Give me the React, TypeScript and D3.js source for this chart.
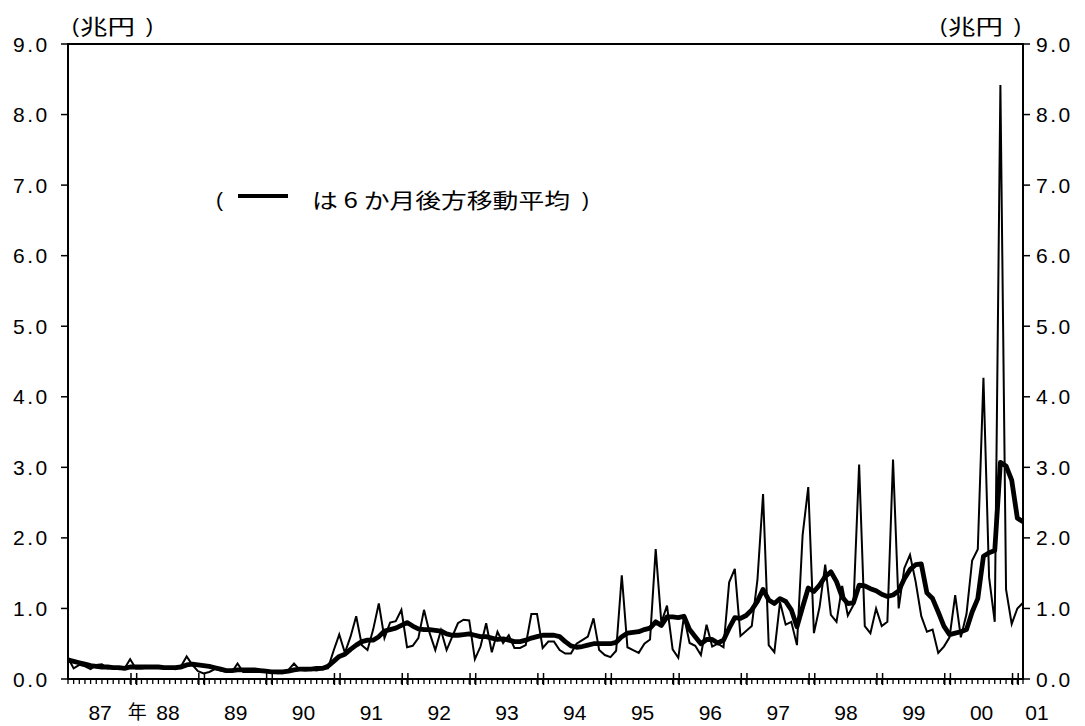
import React from "react";
import * as d3 from "d3";

// Monthly values, Jan 1987 – Feb 2001 (兆円)
const RAW: number[] = [
  0.3, 0.15, 0.2, 0.18, 0.14, 0.2, 0.21, 0.15, 0.17, 0.14, 0.15, 0.28,
  0.15, 0.15, 0.16, 0.17, 0.16, 0.17, 0.15, 0.14, 0.18, 0.32, 0.2, 0.11,
  0.08, 0.1, 0.14, 0.12, 0.1, 0.1, 0.22, 0.1, 0.1, 0.1, 0.1, 0.1,
  0.1, 0.08, 0.08, 0.13, 0.22, 0.13, 0.12, 0.13, 0.12, 0.14, 0.15, 0.4,
  0.63, 0.37, 0.6, 0.89, 0.48, 0.41, 0.7, 1.07, 0.58, 0.8, 0.82, 0.98,
  0.45, 0.47, 0.58, 0.98, 0.65, 0.41, 0.69, 0.41, 0.6, 0.79, 0.84, 0.83,
  0.28, 0.46, 0.79, 0.38, 0.67, 0.51, 0.62, 0.44, 0.44, 0.48, 0.92, 0.92,
  0.44, 0.53, 0.53, 0.41, 0.36, 0.36, 0.5, 0.55, 0.6, 0.86, 0.41, 0.34,
  0.31, 0.4, 1.47, 0.45, 0.41, 0.37, 0.5, 0.56, 1.84, 0.8, 1.04, 0.42,
  0.3, 0.89, 0.51, 0.47, 0.34, 0.77, 0.46, 0.5, 0.45, 1.37, 1.56, 0.61,
  0.68, 0.75, 1.4, 2.62, 0.48, 0.38, 1.09, 0.77, 0.81, 0.48, 2.04, 2.72,
  0.65, 1.02, 1.62, 0.91, 0.81, 1.32, 0.9, 1.05, 3.04, 0.75, 0.65, 1.0,
  0.75, 0.81, 3.11, 1.0, 1.57, 1.76, 1.38, 0.89, 0.67, 0.7, 0.37, 0.46,
  0.59, 1.19, 0.59, 0.92, 1.68, 1.84, 4.27, 1.44, 0.81, 8.42, 1.27, 0.78,
  1.0, 1.08,
];

// 6-month backward moving average as drawn (thick line)
const MA6: number[] = [
  0.27, 0.25, 0.23, 0.21, 0.19, 0.18, 0.17, 0.17, 0.16, 0.16, 0.15, 0.17,
  0.17, 0.17, 0.17, 0.17, 0.17, 0.16, 0.16, 0.16, 0.17, 0.2, 0.21, 0.2,
  0.19, 0.18, 0.16, 0.14, 0.12, 0.12, 0.13, 0.13, 0.13, 0.13, 0.12, 0.11,
  0.1, 0.1, 0.1, 0.11, 0.13, 0.14, 0.14, 0.14, 0.15, 0.15, 0.18, 0.25,
  0.32, 0.35, 0.42, 0.48, 0.53, 0.55, 0.55, 0.6, 0.68, 0.7, 0.72, 0.76,
  0.8, 0.75, 0.71, 0.7, 0.7, 0.69, 0.68, 0.64, 0.62, 0.62, 0.63, 0.64,
  0.62, 0.6, 0.6, 0.58, 0.56, 0.57, 0.55, 0.53, 0.53, 0.55, 0.58, 0.6,
  0.62, 0.62, 0.62, 0.6, 0.53, 0.47, 0.45, 0.46, 0.48, 0.5, 0.5, 0.5,
  0.5, 0.52, 0.6, 0.65, 0.66, 0.67, 0.7, 0.72, 0.81, 0.76, 0.88, 0.88,
  0.87, 0.89, 0.7, 0.6, 0.5, 0.56, 0.56, 0.51, 0.55, 0.72, 0.87, 0.86,
  0.9, 0.98, 1.1, 1.27, 1.12, 1.07, 1.14, 1.1, 0.98, 0.74, 1.02, 1.29,
  1.24, 1.33, 1.45, 1.52, 1.38, 1.16, 1.07, 1.08, 1.33, 1.32, 1.28, 1.25,
  1.2, 1.17, 1.19, 1.25, 1.42, 1.55, 1.62, 1.63, 1.22, 1.14, 0.95, 0.75,
  0.63, 0.65, 0.67, 0.7, 0.95, 1.14, 1.74, 1.79, 1.82, 3.07, 3.02, 2.82,
  2.28, 2.23,
];

const YEAR_LABELS: string[] = ["87", "88", "89", "90", "91", "92", "93", "94", "95", "96", "97", "98", "99", "00", "01"];
const Y_TICKS: number[] = [0, 1, 2, 3, 4, 5, 6, 7, 8, 9];
const UNIT = "兆円";
const YEAR_MARK = "年";
const LEGEND_TEXT = "は 6 か月後方移動平均";

const W = 1085;
const H = 726;
const FONT = "'Liberation Sans', Arial, Helvetica, sans-serif";
const CJK = "'Noto Sans CJK JP', sans-serif";

function Unit({ x0 }: { x0: number }) {
  return (
    <g>
      <text x={x0 + 6} y={33} fontSize={21} fontFamily={FONT} fill="#000">(</text>
      <text x={x0 + 14} y={34} fontSize={21} fontFamily={CJK} textLength={55} lengthAdjust="spacingAndGlyphs" fill="#000">
        {UNIT}
      </text>
      <text x={x0 + 80} y={33} fontSize={21} fontFamily={FONT} fill="#000">)</text>
    </g>
  );
}

export default function App() {
  const n = RAW.length;
  const x = d3.scaleLinear().domain([0, n - 1]).range([68, 1023]);
  const y = d3.scaleLinear().domain([0, 9]).range([679, 44]);
  const line = d3
    .line<number>()
    .x((_, i) => x(i))
    .y((d) => y(d));

  const left = x(0);
  const right = x(n - 1);
  const top = y(9);
  const bottom = y(0);

  const monthIdx = d3.range(0, n);
  const yearBounds = d3.range(1, YEAR_LABELS.length).map((k) => k * 12).filter((m) => m <= n);

  return (
    <svg
      width={W}
      height={H}
      style={{ position: "absolute", left: 0, top: 0, background: "#fff" }}
      fontFamily={FONT}
    >
      <rect x={0} y={0} width={W} height={H} fill="#fff" />
      {/* frame */}
      <rect x={left} y={top} width={right - left} height={bottom - top} fill="none" stroke="#000" strokeWidth={2} />

      {/* y ticks & labels */}
      {Y_TICKS.map((t) => (
        <g key={t}>
          <line x1={left - 7} x2={left} y1={y(t)} y2={y(t)} stroke="#000" strokeWidth={1.5} />
          <line x1={right} x2={right + 7} y1={y(t)} y2={y(t)} stroke="#000" strokeWidth={1.5} />
          <text x={13} y={y(t) + 7.5} fontSize={21} letterSpacing={2.5} fill="#000">
            {t.toFixed(1)}
          </text>
          <text x={1036} y={y(t) + 7.5} fontSize={21} letterSpacing={2.5} fill="#000">
            {t.toFixed(1)}
          </text>
        </g>
      ))}

      {/* monthly minor ticks */}
      {monthIdx.map((i) => (
        <line key={i} x1={x(i)} x2={x(i)} y1={bottom} y2={bottom + 5} stroke="#000" strokeWidth={1.3} />
      ))}
      {/* year boundary double ticks */}
      {yearBounds.map((m) => (
        <g key={m}>
          <line x1={x(m - 0.85)} x2={x(m - 0.85)} y1={bottom - 6} y2={bottom + 6} stroke="#000" strokeWidth={1.5} />
          <line x1={x(m + 0.15)} x2={x(m + 0.15)} y1={bottom - 6} y2={bottom + 6} stroke="#000" strokeWidth={1.5} />
        </g>
      ))}

      {/* x labels */}
      {YEAR_LABELS.map((lab, k) => {
        const cx = k === YEAR_LABELS.length - 1 ? 1037 : x(k * 12 + 5.5) + 1;
        return (
          <g key={lab}>
            {k === 1 && (
              <text x={cx - 21} y={719} fontSize={19} fontFamily={CJK} textAnchor="end" fill="#000">
                {YEAR_MARK}
              </text>
            )}
            <text x={cx} y={720} fontSize={21} textAnchor="middle" fill="#000">
              {lab}
            </text>
          </g>
        );
      })}

      {/* units */}
      <Unit x0={66} />
      <Unit x0={934} />

      {/* legend */}
      <text x={216} y={207} fontSize={21} fontFamily={FONT} fill="#000">(</text>
      <line x1={238} x2={288} y1={196} y2={196} stroke="#000" strokeWidth={4} />
      <text x={312} y={208} fontSize={21} fontFamily={CJK} textLength={258} lengthAdjust="spacingAndGlyphs" fill="#000">
        {LEGEND_TEXT}
      </text>
      <text x={582} y={207} fontSize={21} fontFamily={FONT} fill="#000">)</text>

      {/* series */}
      <path d={line(RAW) ?? ""} fill="none" stroke="#000" strokeWidth={2} strokeLinejoin="miter" />
      <path d={line(MA6) ?? ""} fill="none" stroke="#000" strokeWidth={4.8} strokeLinejoin="round" />
    </svg>
  );
}
